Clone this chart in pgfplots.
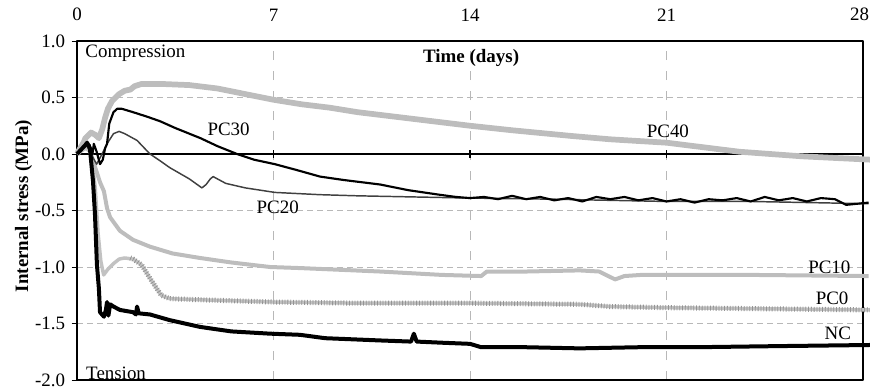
\documentclass[border=0pt]{standalone}
\usepackage{pgfplots}
\pgfplotsset{compat=1.18}
\usepackage{fontspec}
\setmainfont{Liberation Serif}
\definecolor{lg}{gray}{0.74}
\definecolor{pcz}{gray}{0.76}
\definecolor{pczd}{gray}{0.58}
\definecolor{dg}{gray}{0.25}
\definecolor{gridc}{gray}{0.72}
\begin{document}
\fontsize{14.2}{16}\selectfont
\begin{tikzpicture}
\begin{axis}[
  at={(0,0)}, anchor=south west,
  scale only axis, width=589.5pt, height=254.25pt,
  xmin=0, xmax=28, ymin=-2, ymax=1,
  xtick={0,7,14,21,28}, xticklabels={0,7,14,21,{\hspace*{-5pt}28}},
  xticklabel pos=upper,
  xticklabel style={yshift=6pt},
  x tick style={draw=none},
  ytick={-2,-1.5,-1,-0.5,0,0.5,1},
  yticklabels={-2.0,-1.5,-1.0,-0.5,0.0,0.5,1.0},
  ytick pos=left, tick align=outside, major tick length=4pt,
  y tick style={black, line width=0.7pt},
  grid=major,
  x grid style={gridc, line width=0.6pt, dash pattern=on 7pt off 8pt},
  y grid style={gridc, line width=0.6pt, dash pattern=on 4.5pt off 3pt},
  axis line style={line width=0.9pt},
  every axis y label/.style={at={(axis description cs:-0.068,0.513)}, rotate=90, anchor=center},
  ylabel={\bfseries Internal stress (MPa)},
  clip=false,
  line join=round,
]
% zero line
\addplot[black, line width=0.8pt, forget plot] coordinates {(0,0) (28,0)};

% PC40
\addplot[lg, line width=4.3pt] coordinates {
(0,0) (0.15,0.05) (0.3,0.14) (0.5,0.19) (0.65,0.17) (0.78,0.14) (0.9,0.22) (1.0,0.32) (1.1,0.40) (1.25,0.47) (1.5,0.53) (1.7,0.56) (1.9,0.57) (2.05,0.60) (2.3,0.62) (3.0,0.62) (4.0,0.61) (5.0,0.58) (6.0,0.53) (7.0,0.48) (8.0,0.44) (9.0,0.41) (10.0,0.37) (11.0,0.34) (12.0,0.31) (13.0,0.28) (14.0,0.25) (15.5,0.21) (17.6,0.16) (19.0,0.13) (21.0,0.10) (22.3,0.06) (23.6,0.02) (25.8,-0.02) (27.0,-0.035) (28.25,-0.05)
};

% PC10
\addplot[lg, line width=3pt] coordinates {
(0.0,0.02) (0.2,0.10) (0.35,0.08) (0.5,0.0) (0.65,-0.12) (0.82,-0.25) (0.96,-0.33) (1.07,-0.48) (1.18,-0.56) (1.53,-0.68) (2.0,-0.76) (2.6,-0.82) (3.4,-0.88) (4.38,-0.92) (5.5,-0.96) (6.88,-1.0) (8,-1.01) (10.8,-1.04) (13.0,-1.07) (14.4,-1.08) (14.6,-1.04) (16,-1.04) (17.9,-1.03) (18.6,-1.04) (19.17,-1.11) (19.5,-1.08) (20.1,-1.07) (24,-1.07) (28.2,-1.08)
};

% PC0 (striped)
\addplot[pcz, line width=2.6pt] coordinates {
(0,0) (0.3,0.05) (0.5,0.02) (0.65,-0.3) (0.75,-0.7) (0.85,-0.95) (0.95,-1.07) (1.1,-1.02) (1.3,-0.97) (1.5,-0.93) (1.7,-0.92) (2.0,-0.93) (2.3,-0.98) (2.6,-1.1) (3.0,-1.25) (3.3,-1.28) (4.4,-1.29) (7,-1.31) (10,-1.32) (14,-1.32) (17.9,-1.33) (19,-1.35) (21,-1.36) (28.3,-1.38)
};
\addplot[pczd, line width=3.8pt, dash pattern=on 0.6pt off 1.5pt, forget plot] coordinates {
(1.9,-0.92) (2.0,-0.93) (2.3,-0.98) (2.6,-1.1) (3.0,-1.25) (3.3,-1.28) (4.4,-1.29) (7,-1.31) (10,-1.32) (14,-1.32) (17.9,-1.33) (19,-1.35) (21,-1.36) (28.3,-1.38)
};

% PC20
\addplot[dg, line width=1.1pt] coordinates {
(0.3,0.10) (0.5,0.0) (0.7,-0.09) (0.85,-0.02) (1.07,0.09) (1.3,0.18) (1.5,0.20) (1.7,0.18) (2.14,0.12) (2.6,0.0) (2.96,-0.06) (3.3,-0.12) (4.0,-0.22) (4.45,-0.30) (4.6,-0.27) (4.75,-0.22) (4.85,-0.20) (5.0,-0.22) (5.3,-0.26) (6.0,-0.30) (7.05,-0.34) (8.66,-0.36) (10,-0.37) (12,-0.38) (14,-0.39) (17,-0.40) (21,-0.42) (24,-0.42) (28.2,-0.44)
};

% PC30
\addplot[black, line width=1.6pt] coordinates {
(0.3,0.10) (0.45,0.08) (0.55,0.0) (0.6,0.09) (0.7,0.02) (0.82,-0.09) (0.92,-0.05) (1.0,0.05) (1.07,0.09) (1.15,0.27) (1.3,0.37) (1.43,0.40) (1.6,0.40) (2.0,0.37) (2.5,0.33) (2.96,0.29) (3.5,0.23) (4.4,0.14) (5.0,0.07) (5.7,0.0) (6.3,-0.05) (7.05,-0.09) (7.8,-0.14) (8.66,-0.20) (9.5,-0.23) (10.8,-0.27) (11.8,-0.32) (12.9,-0.36) (13.5,-0.38) (14.0,-0.39) (14.5,-0.38) (15,-0.40) (15.5,-0.37) (16,-0.40) (16.5,-0.38) (17,-0.41) (17.5,-0.39) (18,-0.42) (18.5,-0.38) (19,-0.40) (19.5,-0.38) (20,-0.41) (20.5,-0.39) (21,-0.42) (21.5,-0.40) (22,-0.43) (22.5,-0.40) (23,-0.41) (23.5,-0.39) (24,-0.42) (24.5,-0.38) (25,-0.41) (25.5,-0.39) (26,-0.42) (26.5,-0.39) (27,-0.40) (27.4,-0.45) (27.8,-0.44) (28.2,-0.43)
};

% NC
\addplot[black, line width=3pt] coordinates {
(0,0) (0.3,0.08) (0.36,0.10) (0.46,0.05) (0.57,-0.24) (0.64,-0.53) (0.71,-0.98) (0.78,-1.19) (0.82,-1.40) (0.96,-1.44) (1.03,-1.38) (1.07,-1.31) (1.12,-1.43) (1.18,-1.33) (1.3,-1.35) (1.53,-1.38) (2.0,-1.40) (2.1,-1.42) (2.14,-1.35) (2.2,-1.41) (2.6,-1.42) (3.3,-1.47) (4.38,-1.53) (5.5,-1.57) (6.88,-1.59) (7.94,-1.60) (8.84,-1.63) (10.8,-1.65) (11.9,-1.66) (12.0,-1.59) (12.1,-1.66) (13,-1.67) (14.0,-1.68) (14.4,-1.71) (16,-1.71) (17.9,-1.72) (20,-1.71) (22,-1.71) (25,-1.70) (28.3,-1.69)
};

% small ticks on the zero line
\draw[black, line width=0.8pt] (axis cs:7,-0.035) -- (axis cs:7,0.035);
\draw[black, line width=0.8pt] (axis cs:14,-0.035) -- (axis cs:14,0.035);
\draw[black, line width=0.8pt] (axis cs:21,-0.035) -- (axis cs:21,0.035);

\node at (axis cs:5.4,0.215) {PC30};
\node at (axis cs:7.15,-0.47) {PC20};
\node at (axis cs:21.05,0.2) {PC40};
\node at (axis cs:26.8,-1.0) {PC10};
\node at (axis cs:26.9,-1.28) {PC0};
\node at (axis cs:27.1,-1.59) {NC};
\node[anchor=west, inner sep=0pt] at (axis cs:0.29,0.89) {Compression};
\node[anchor=west, inner sep=0pt] at (axis cs:0.32,-1.94) {Tension};
\node at (axis cs:14.04,0.85) {\bfseries Time (days)};
\end{axis}
\pgfresetboundingbox
\useasboundingbox (-57.75pt,-7.5pt) rectangle (594.75pt,285pt);
\end{tikzpicture}
\end{document}
